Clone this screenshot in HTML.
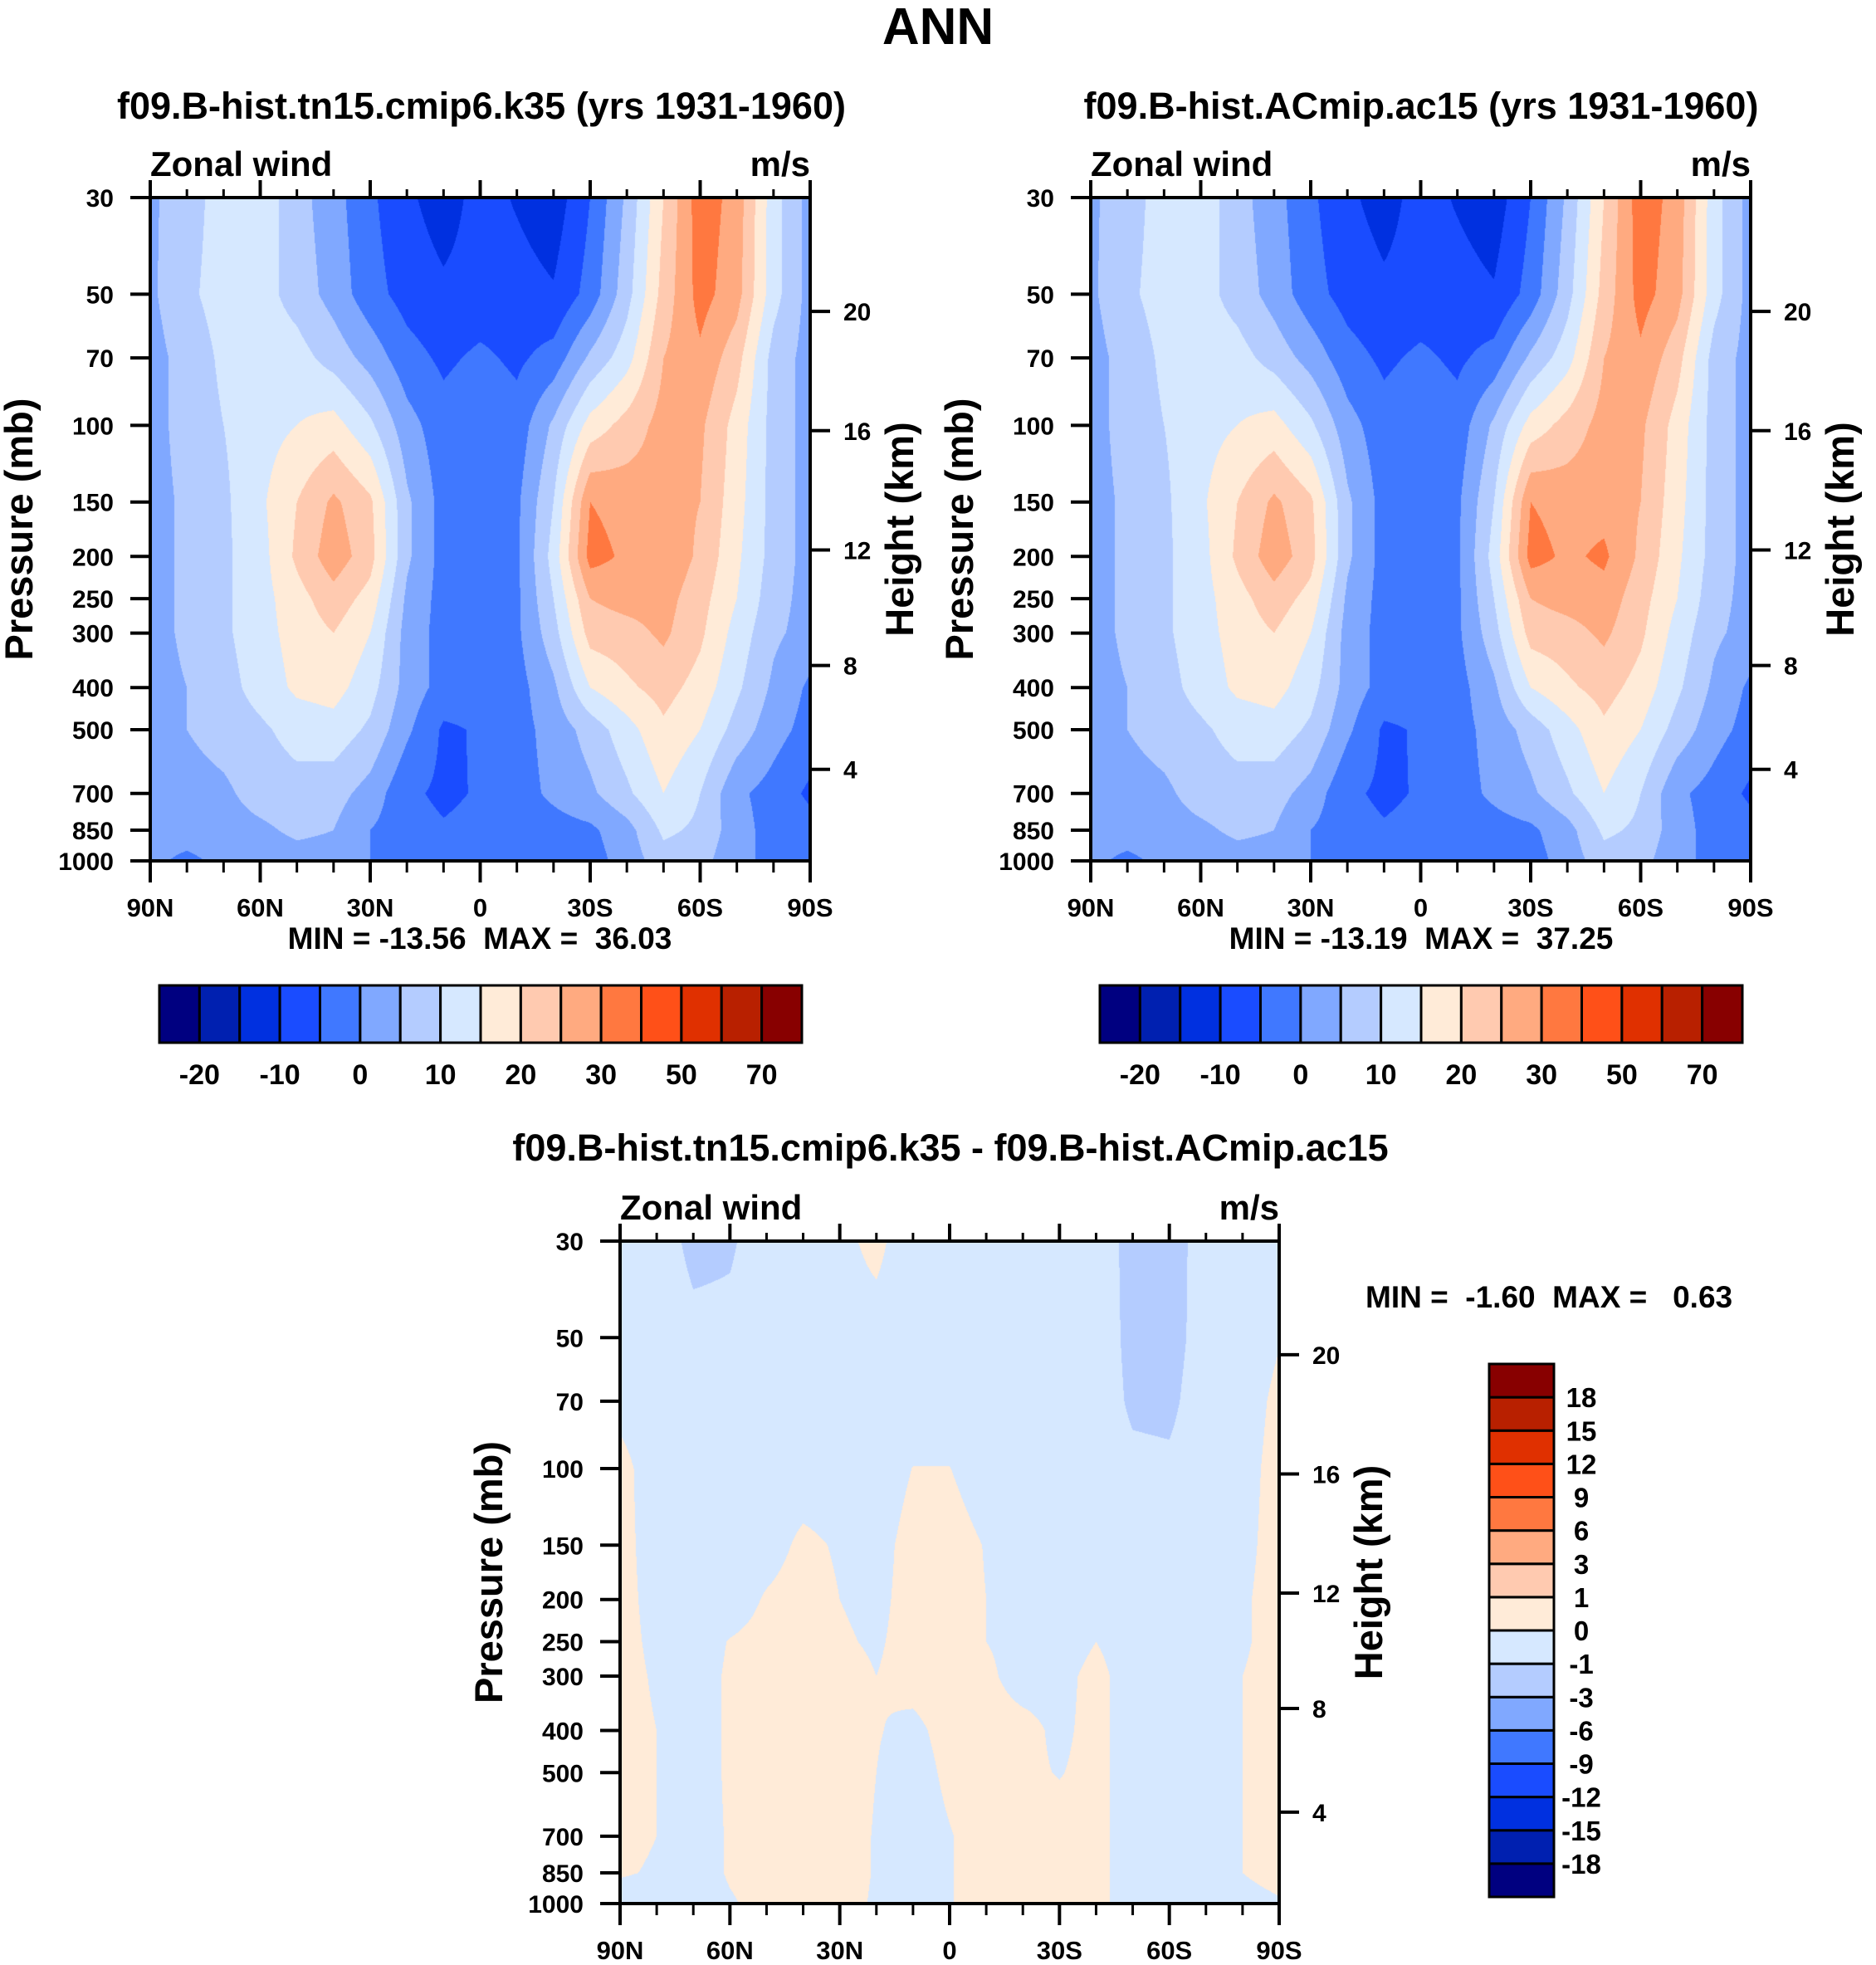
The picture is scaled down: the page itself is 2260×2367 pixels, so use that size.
<!DOCTYPE html>
<html><head><meta charset="utf-8"><style>
html,body{margin:0;padding:0;background:#fff;}
body{width:2260px;height:2367px;position:relative;overflow:hidden;font-family:"Liberation Sans",Arial,sans-serif;}
canvas{position:absolute;}
svg{position:absolute;left:0;top:0;}
text{font-family:"Liberation Sans",Arial,sans-serif;font-weight:bold;fill:#000;white-space:pre;}
</style></head><body>
<canvas id="c1"></canvas>
<canvas id="c2"></canvas>
<canvas id="c3"></canvas>
<svg id="s" width="2260" height="2367"></svg>
<script>
const lats=[90,80,70,60,50,40,30,20,10,0,-10,-20,-30,-40,-50,-60,-70,-80,-90];
const plevs=[1000,850,700,500,400,300,250,200,150,100,70,50,30];
const ctlU=[
[1,-1,1,2,3,3,0,-3,-4,-3,-4,-3,-2,2,8,7,1,-1,-2],
[2,2,3,4,6,5,0,-3,-4.5,-3.5,-3,-2,-1,3,11,9,2,-2,-3],
[2,3,4,7,8,7,3,-4,-6,-4.5,-2,1,4,9,15,10,1,-2,-6],
[3,5,7,9,12,13,9,1,-5.8,-4.5,-2,2,7,13,19,15,8,2,-2],
[3,5,8,12,16,17,12,3,-2,-3,-2,4,15,19,22,18,11,4,-1],
[3,6,9,13,17,20,15,3,-2,-3,-1,8,22,23,26,21,13,6,3],
[3,6,9,13,18,23,18,4,-2,-3,-1,10,25,27,27,22,15,7,3],
[3,6,9,13,21,28,22,6,-2,-3,-1,12,32,29,29,24,16,8,3],
[3,6,9,14,20,26,21,6,-2,-3,-1,10,30,28,27,25,17,8,3],
[3,7,10,13,15,17,11,2,-3,-1,-3,6,17,22,27,26,18,8,3],
[3,7,11,13,12,8,3,-3,-6,-4,-6,-3,6,13,25,29,22,8,3],
[4,9,12,12,8,3,-3,-7,-9,-8,-8,-9.5,-3,8,22,32,27,12,3],
[4,8,12,13,7,2,-4,-9,-12.5,-8,-10.5,-13,-5,6,20,33,28,12,3]];
const testU=[
[1,-1,1,2,3,3,0,-3,-4,-3,-4,-3,-2,2,8,7,1,-1,-2],
[2,2,3,4,6,5,0,-3,-4.5,-3.5,-3,-2,-1,3,11,9,2,-2,-3],
[2,3,4,7,8,7,3,-4,-6,-4.5,-2,1,4,9,15,10,1,-2,-6],
[3,5,7,9,12,13,9,1,-5.8,-4.5,-2,2,7,13,19,15,8,2,-2],
[3,5,8,12,16,17,12,3,-2,-3,-2,4,15,19,22,18,11,4,-1],
[3,6,9,13,17,20,15,3,-2,-3,-1,8,22,23,26,21,13,6,3],
[3,6,9,13,18,23,18,4,-2,-3,-1,10,25,27,28,22,15,7,3],
[3,6,9,13,21,28,22,6,-2,-3,-1,12,32,29,31,24,16,8,3],
[3,6,9,14,20,26,21,6,-2,-3,-1,10,30,28,28,25,17,8,3],
[3,7,10,13,15,17,11,2,-3,-1,-3,6,17,22,27,26,18,8,3],
[3,7,11,13,12,8,3,-3,-6,-4,-6,-3,6,13,25,29,22,8,3],
[4,9,12,12,8,3,-3,-7,-9,-8,-8,-9.5,-3,8,22,32,27,12,3],
[4,8,12,13,7,2,-4,-9,-12,-8,-10.5,-12.8,-5,6,20,33,28,12,3]];
const diffU=[
[-0.5,-0.5,-0.5,-0.1,0.3,0.4,0.3,-0.1,-0.5,-0.05,0.4,0.4,0.4,0.3,-0.5,-0.5,-0.5,-0.3,-0.1],
[0.1,-0.1,-0.5,0.1,0.4,0.4,0.3,-0.05,-0.5,-0.05,0.4,0.4,0.4,0.3,-0.5,-0.5,-0.5,0.0,0.3],
[0.25,0.0,-0.5,0.1,0.4,0.4,0.3,-0.05,-0.5,-0.05,0.4,0.4,0.4,0.3,-0.5,-0.5,-0.5,0.0,0.3],
[0.3,0.0,-0.5,0.15,0.4,0.4,0.3,0.0,-0.4,0.2,0.4,0.2,-0.05,0.3,-0.5,-0.5,-0.5,0.0,0.3],
[0.3,0.0,-0.5,0.15,0.4,0.4,0.3,0.05,-0.2,0.3,0.4,0.3,-0.2,0.3,-0.5,-0.5,-0.5,0.0,0.3],
[0.3,-0.1,-0.5,0.15,0.4,0.4,0.3,0.0,0.3,0.4,0.2,-0.4,-0.3,0.3,-0.5,-0.5,-0.5,0.0,0.3],
[0.3,-0.2,-0.5,0.05,0.3,0.4,0.1,-0.1,0.3,0.4,0.0,-0.3,-0.5,0.0,-0.5,-0.5,-0.5,-0.1,0.3],
[0.3,-0.3,-0.5,-0.5,0.1,0.4,0.0,-0.2,0.3,0.4,0.0,-0.5,-0.5,-0.5,-0.5,-0.5,-0.5,-0.1,0.3],
[0.3,-0.4,-0.5,-0.5,-0.4,0.2,-0.1,-0.3,0.3,0.4,-0.05,-0.5,-0.5,-0.5,-0.5,-0.5,-0.5,-0.2,0.3],
[0.3,-0.5,-0.5,-0.5,-0.5,-0.5,-0.5,-0.5,0.02,0.02,-0.5,-0.5,-0.5,-0.5,-0.8,-0.85,-0.5,-0.3,0.3],
[-0.3,-0.5,-0.5,-0.5,-0.5,-0.5,-0.5,-0.5,-0.5,-0.5,-0.5,-0.5,-0.5,-0.5,-1.15,-1.2,-0.5,-0.4,0.2],
[-0.5,-0.5,-0.8,-0.8,-0.6,-0.5,-0.3,-0.3,-0.5,-0.5,-0.5,-0.5,-0.5,-0.5,-1.25,-1.35,-0.6,-0.5,-0.05],
[-0.5,-0.6,-1.2,-1.1,-0.6,-0.5,-0.2,0.2,-0.5,-0.5,-0.5,-0.5,-0.5,-0.5,-1.3,-1.4,-0.6,-0.5,-0.4]];
const absLevels=[-20,-15,-10,-5,0,5,10,15,20,25,30,40,50,60,70];
const absLabels=["-20","-10","0","10","20","30","50","70"];
const diffLevels=[-18,-15,-12,-9,-6,-3,-1,0,1,3,6,9,12,15,18];
const colors=['#000080','#0020b0','#0030e0','#1a4cff','#4078ff','#80a8ff','#b4ccff','#d6e8ff','#ffebd8','#ffcab0','#ffaa80','#ff7840','#ff5018','#e03000','#b82000','#880000'];
const pTicks=[1000,850,700,500,400,300,250,200,150,100,70,50,30];
const zTicks=[4,8,12,16,20];
const latTicks=[90,60,30,0,-30,-60,-90];
const latLabels=["90N","60N","30N","0","30S","60S","90S"];

const NS='http://www.w3.org/2000/svg';
const svg=document.getElementById('s');
const LP0=Math.log10(1000), LP1=Math.log10(30);
function mk(tag,attrs){const e=document.createElementNS(NS,tag);for(const k in attrs)e.setAttribute(k,attrs[k]);svg.appendChild(e);return e;}
function txt(x,y,s,size,anchor,name,rot){
  const t=mk('text',{x:x,y:y,'font-size':size,'text-anchor':anchor||'start'});
  if(rot)t.setAttribute('transform','rotate(-90 '+x+' '+y+')');
  t.textContent=s;
  
  
  return t;}
function zToP(z){if(z<=11){return 1013.25*Math.pow((288.15-6.5*z)/288.15,5.2559);}return 226.32*Math.exp(-(z-11)/6.3416);}
function colorIdx(v,lev){let i=0;while(i<lev.length&&v>=lev[i])i++;return i;}
function hex(c){return [parseInt(c.slice(1,3),16),parseInt(c.slice(3,5),16),parseInt(c.slice(5,7),16)];}
const rgb=colors.map(hex);

function panel(L,canvasId,field,levels,names){
  const xOf=lat=>L.x0+(90-lat)/180*(L.x1-L.x0);
  const yOf=p=>L.y1-(LP0-Math.log10(p))/(LP0-LP1)*(L.y1-L.y0);
  const cv=document.getElementById(canvasId);
  const W=L.x1-L.x0,H=L.y1-L.y0;
  cv.width=W;cv.height=H;cv.style.left=L.x0+'px';cv.style.top=L.y0+'px';
  const ctx=cv.getContext('2d');const img=ctx.createImageData(W,H);
  const lp=plevs.map(p=>Math.log10(p));
  for(let py=0;py<H;py++){
    const logp=LP0-((H-(py+0.5))/H)*(LP0-LP1);
    let j=0;while(j<lp.length-2&&logp<lp[j+1])j++;
    let tv=(lp[j]-logp)/(lp[j]-lp[j+1]);tv=Math.max(0,Math.min(1,tv));
    for(let px=0;px<W;px++){
      const lat=90-(px+0.5)/W*180;
      let fi=(90-lat)/10;let i=Math.min(17,Math.floor(fi));let tu=fi-i;
      const v=(field[j][i]*(1-tu)+field[j][i+1]*tu)*(1-tv)+(field[j+1][i]*(1-tu)+field[j+1][i+1]*tu)*tv;
      const c=rgb[colorIdx(v,levels)];const k=(py*W+px)*4;
      img.data[k]=c[0];img.data[k+1]=c[1];img.data[k+2]=c[2];img.data[k+3]=255;}
  }
  ctx.putImageData(img,0,0);
  const fr=mk('rect',{x:L.x0,y:L.y0,width:W,height:H,fill:'none',stroke:'#000','stroke-width':4});
  
  
  pTicks.forEach(p=>{const y=yOf(p);
    const tk=mk('line',{x1:L.x0-24,x2:L.x0,y1:y,y2:y,stroke:'#000','stroke-width':4});
    
    
    txt(L.x0-44,y+11,String(p),30,'end','pressure-tick-label');});
  zTicks.forEach(z=>{const y=yOf(zToP(z));
    const tk=mk('line',{x1:L.x1,x2:L.x1+24,y1:y,y2:y,stroke:'#000','stroke-width':4});
    
    
    txt(L.x1+40,y+11,String(z),30,'start','height-tick-label');});
  for(let lat=90;lat>=-90;lat-=10){const x=xOf(lat);const major=lat%30===0;const len=major?26:14;
    const tb=mk('line',{x1:x,x2:x,y1:L.y1,y2:L.y1+len,stroke:'#000','stroke-width':major?4:3});
    
    
    const tt=mk('line',{x1:x,x2:x,y1:L.y0,y2:L.y0-(major?21:10),stroke:'#000','stroke-width':major?4:3});
    
    }
  latTicks.forEach((lat,k)=>txt(xOf(lat),L.y1+67,latLabels[k],31,'middle','latitude-tick-label'));
  txt(L.x0,L.y0-26,'Zonal wind',42,'start','variable-label');
  txt(L.x1,L.y0-26,'m/s',42,'end','units-label');
  txt(L.x0-142,(L.y0+L.y1)/2,'Pressure (mb)',47,'middle','pressure-axis-title',true);
  txt(L.x1+124,(L.y0+L.y1)/2,'Height (km)',47,'middle','height-axis-title',true);
}
function hbar(x0,x1,y0,y1,name){
  const w=(x1-x0)/16;
  colors.forEach((c,i)=>{const r=mk('rect',{x:x0+i*w,y:y0,width:w,height:y1-y0,fill:c,stroke:'#000','stroke-width':3});
    
    });
  absLabels.forEach((s,k)=>txt(x0+(2*k+1)*w,y1+50,s,34,'middle',name+'-label'));
}
function vbar(x0,x1,y0,y1,name){
  const h=(y1-y0)/16;
  colors.forEach((c,i)=>{const r=mk('rect',{x:x0,y:y1-(i+1)*h,width:x1-x0,height:h,fill:c,stroke:'#000','stroke-width':3});
    
    });
  diffLevels.forEach((v,k)=>txt(1905,y1-(k+1)*h+12,String(v),33,'middle',name+'-label'));
}
panel({x0:181,x1:976,y0:238,y1:1037},'c1',ctlU,absLevels,'control');
panel({x0:1314,x1:2109,y0:238,y1:1037},'c2',testU,absLevels,'test');
panel({x0:747,x1:1541,y0:1495,y1:2293},'c3',diffU,diffLevels,'difference');
txt(1130,53,'ANN',62,'middle','figure-title');
txt(580,143,'f09.B-hist.tn15.cmip6.k35 (yrs 1931-1960)',45,'middle','control-title');
txt(1712,143,'f09.B-hist.ACmip.ac15 (yrs 1931-1960)',45,'middle','test-title');
txt(1145,1398,'f09.B-hist.tn15.cmip6.k35 - f09.B-hist.ACmip.ac15',45,'middle','difference-title');
txt(578,1143,'MIN = -13.56  MAX =  36.03',37,'middle','control-min-max');
txt(1712,1143,'MIN = -13.19  MAX =  37.25',37,'middle','test-min-max');
txt(1645,1575,'MIN =  -1.60  MAX =   0.63',37,'start','difference-min-max');
hbar(192,966,1187,1256,'control-colorbar');
hbar(1325,2099,1187,1256,'test-colorbar');
vbar(1794,1872,1643,2285,'difference-colorbar');
</script>
</body></html>
